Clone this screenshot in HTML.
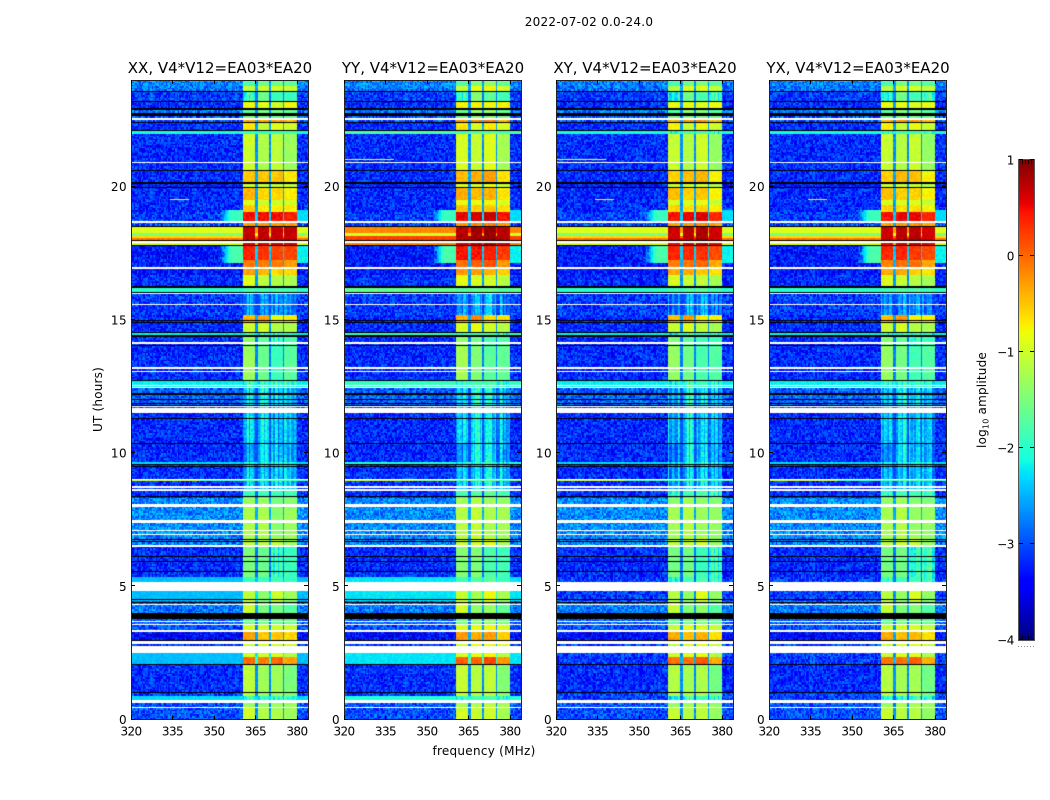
<!DOCTYPE html>
<html lang="en">
<head>
<meta charset="utf-8">
<title>2022-07-02 0.0-24.0</title>
<style>
html,body{margin:0;padding:0;background:#fff;}
#figure{position:relative;width:1050px;height:800px;overflow:hidden;background:#fff;font-family:"DejaVu Sans","Liberation Sans",sans-serif;}
canvas{position:absolute;display:block;}
#overlay{position:absolute;left:0;top:0;}
text{font-family:"DejaVu Sans","Liberation Sans",sans-serif;fill:#000;}
</style>
</head>
<body>
<div id="figure">
<svg id="overlay" width="1050" height="800">
<text x="589" y="26" text-anchor="middle" font-size="12" letter-spacing="0.25">2022-07-02 0.0-24.0</text>
<text x="484" y="755" text-anchor="middle" font-size="12" letter-spacing="0.27">frequency (MHz)</text>
<text transform="translate(102,399.5) rotate(-90)" text-anchor="middle" font-size="12" letter-spacing="0.2">UT (hours)</text>
<text transform="translate(986,400) rotate(-90)" text-anchor="middle" font-size="12" letter-spacing="0.2">log<tspan font-size="8" dy="2.5">10</tspan><tspan dy="-2.5"> amplitude</tspan></text>
</svg>
</div>
<script>
// Axis ranges
const freqMin = 320;
const freqMax = 384;
const hourMin = 0;
const hourMax = 24;
const levelMin = -4;
const levelMax = 1;

// Tick labels
const freqTicks = [320, 335, 350, 365, 380];
const hourTicks = [0, 5, 10, 15, 20];
const levelTicks = [-4, -3, -2, -1, 0, 1];
const levelEndMinorTicks = [0.2, 0.4, 0.6, 0.8];

// Panels
const panelTitles = ["XX, V4*V12=EA03*EA20", "YY, V4*V12=EA03*EA20", "XY, V4*V12=EA03*EA20", "YX, V4*V12=EA03*EA20"];
const panelNames = ["xx", "yy", "xy", "yx"];
const panelBackgroundGain = [0, 0.35, 0, 0];
const panelBandShift = [[0, 0, 0, 0], [0.05, 0.15, 0.2, 0.05], [-0.05, 0.05, 0.1, -0.05], [-0.05, 0.05, 0.05, -0.05]];

// Receiver sub-band edges (MHz)
const bandStartMHz = [360.4, 365.8, 370.5, 375.6];
const bandEndMHz = [365.1, 369.8, 374.9, 379.9];

// Time segments, top to bottom: start hour, log10 background, log10 level in each sub-band
const segmentHour = [
  24.00, 23.77, 23.56, 23.19, 22.90, 22.70, 22.49, 22.40, 22.10, 21.97,
  20.60, 20.13, 19.96, 19.49, 19.30, 19.04, 18.70, 18.48, 18.25, 18.16,
  18.07, 17.95, 17.78, 17.24, 17.00, 16.68, 16.20, 16.02, 15.18, 14.88,
  14.50, 14.37, 14.05, 12.72, 12.44, 11.52, 10.35, 9.66, 9.57, 8.99,
  8.95, 8.57, 8.33, 7.99, 6.83, 6.49, 5.33, 4.84, 4.45, 3.86,
  3.53, 3.28, 2.95, 2.51, 2.34, 2.06, 1.01, 0.88, 0.62, 0.43
];
const segmentBackground = [
  -2.75, -2.8, -3.1, -3.2, -2.8, -3.0, -3.0, -3.2, -2.1, -3.2,
  -3.2, -3.3, -3.2, -3.2, -3.2, -3.1, -3.0, -0.9, -1.5, -0.6,
  -0.1, -0.9, -3.3, -3.3, -3.3, -3.2, -2.0, -3.1, -3.2, -3.2,
  -2.2, -3.2, -3.2, -2.2, -2.9, -3.2, -3.2, -2.3, -3.2, -1.8,
  -3.2, -3.2, -2.7, -2.7, -2.75, -3.2, -2.45, -2.45, -2.8, -2.9,
  -3.0, -3.4, -3.1, -2.45, -2.45, -3.2, -3.1, -2.3, -3.0, -3.0
];
const segmentBands = [
  [-1.8, -1.6, -1.6, -1.7], [-1.1, -1.0, -1.0, -1.0], [-2.0, -1.6, -1.9, -1.9], [-0.8, -0.9, -1.0, -0.8], [-1.7, -1.5, -1.6, -1.7],
  [-1.5, -1.5, -1.6, -1.6], [-0.3, -0.3, -0.3, -0.4], [-0.7, -1.1, -0.9, -1.0], [-1.9, -1.9, -1.9, -1.9], [-1.0, -1.2, -1.1, -1.3],
  [-0.5, -0.5, -0.5, -0.7], [-1.0, -1.1, -1.1, -1.1], [-0.4, -0.6, -0.6, -0.7], [-0.9, -1.0, -1.0, -1.0], [-0.5, -0.7, -0.7, -0.7],
  [0.5, 0.5, 0.5, 0.4], [-0.3, -0.3, -0.3, -0.3], [0.7, 0.7, 0.7, 0.7], [0.7, 0.7, 0.7, 0.7], [0.7, 0.7, 0.7, 0.7],
  [0.7, 0.7, 0.7, 0.7], [0.6, 0.6, 0.6, 0.6], [0.4, 0.3, 0.2, 0.2], [-0.1, -0.1, -0.1, -0.3], [-0.3, -0.4, -0.6, -0.6],
  [-0.9, -1.1, -1.2, -1.2], [-1.8, -1.8, -1.8, -1.8], [-2.7, -2.7, -2.7, -2.8], [-0.4, -0.3, -0.8, -0.7], [-1.0, -1.0, -1.2, -1.2],
  [-2.0, -2.0, -2.0, -2.0], [-1.4, -1.7, -2.0, -1.8], [-1.3, -1.6, -1.9, -1.7], [-2.0, -2.0, -2.0, -2.0], [-2.4, -2.2, -2.4, -2.5],
  [-2.4, -2.3, -2.5, -2.5], [-2.7, -2.3, -2.5, -2.6], [-2.1, -2.1, -2.1, -2.1], [-2.5, -2.5, -2.5, -2.5], [-1.8, -1.8, -1.8, -1.8],
  [-2.4, -2.4, -2.4, -2.4], [-1.9, -1.9, -1.9, -1.9], [-1.3, -1.3, -1.5, -1.4], [-1.2, -1.2, -1.4, -1.3], [-1.1, -1.1, -1.1, -1.3],
  [-1.5, -1.6, -2.0, -1.9], [-1.9, -1.9, -1.9, -1.9], [-1.1, -1.4, -1.0, -1.3], [-1.0, -1.5, -1.5, -1.7], [-1.6, -1.6, -1.6, -1.6],
  [-1.0, -1.0, -1.0, -1.0], [-0.3, -0.5, -0.5, -0.6], [-1.0, -1.0, -1.0, -1.0], [-1.0, -1.0, -1.0, -1.2], [0.0, -0.1, 0.0, -0.3],
  [-1.1, -1.3, -1.3, -1.5], [-1.1, -1.3, -1.3, -1.5], [-2.0, -2.0, -2.0, -2.0], [-1.3, -1.3, -1.3, -1.3], [-1.0, -1.2, -1.2, -1.3]
];

// Hour ranges with enhanced emission next to the sub-bands
const haloStartHour = [19.10, 17.78];
const haloEndHour = [18.70, 17.15];
const haloLevel = [-1.9, -1.8];

// Narrow-band interference streaks and the panels each one appears in
const rfiHour = [21.05, 19.52, 22.75, 8.97];
const rfiStartMHz = [320, 334, 320, 320];
const rfiEndMHz = [338, 341, 352, 345];
const rfiLevel = [-0.8, -0.7, -1.9, -1.0];
const rfiPanels = [[1, 2], [0, 2, 3], [0, 1, 2, 3], [0, 1, 2, 3]];

// Hour ranges where the cross-hand panels stay at the quiet background
const crossQuietStartHour = [5.33, 2.51, 0.88];
const crossQuietEndHour = [4.45, 2.06, 0.62];

// Flagged time ranges (white) and zero-amplitude time ranges (black)
const flaggedStartHour = [22.59, 20.94, 18.70, 17.95, 16.98, 16.00, 15.61, 14.15, 13.23, 13.09, 12.57, 12.49, 11.76, 11.69, 9.04, 8.76, 8.65, 8.09, 7.47, 7.13, 6.98, 6.55, 5.16, 4.35, 3.71, 3.60, 3.36, 2.95, 2.76, 0.75, 0.47];
const flaggedEndHour = [22.49, 20.88, 18.63, 17.88, 16.92, 15.95, 15.55, 14.09, 13.17, 13.04, 12.53, 12.44, 11.71, 11.52, 8.99, 8.70, 8.59, 7.99, 7.39, 7.07, 6.92, 6.49, 4.84, 4.33, 3.66, 3.53, 3.28, 2.83, 2.51, 0.62, 0.43];
const zeroStartHour = [23.58, 23.21, 22.94, 22.76, 22.42, 22.14, 20.62, 20.17, 19.98, 18.52, 17.99, 17.80, 16.26, 16.04, 15.01, 14.91, 14.56, 14.43, 14.05, 12.74, 12.25, 12.03, 11.88, 11.80, 11.31, 10.37, 9.59, 9.51, 8.39, 7.50, 6.79, 6.70, 6.12, 5.95, 5.59, 4.54, 4.41, 3.98, 3.83, 2.98, 2.08, 1.05];
const zeroEndHour = [23.54, 23.17, 22.87, 22.64, 22.38, 22.08, 20.58, 20.09, 19.94, 18.48, 17.95, 17.77, 16.19, 16.00, 14.95, 14.88, 14.50, 14.37, 14.01, 12.70, 12.18, 11.99, 11.84, 11.76, 11.27, 10.34, 9.55, 9.47, 8.35, 7.47, 6.76, 6.66, 6.08, 5.91, 5.55, 4.50, 4.37, 3.86, 3.79, 2.95, 2.05, 1.01];

// Short hand-typed speckle table that stands in for the visual grain of the measurement noise
const speckle = [
  0.21, -0.34, 0.08, 0.37, -0.15, -0.28, 0.30, -0.05, 0.17, -0.39, 0.12, 0.26, -0.22, 0.03, -0.31, 0.35,
  -0.09, 0.19, -0.26, 0.41, -0.18, 0.06, 0.28, -0.36, 0.14, -0.02, 0.33, -0.24, 0.10, -0.41, 0.23, -0.12,
  0.38, -0.29, 0.01, 0.16, -0.20, 0.31, -0.07, -0.33, 0.25, 0.09, -0.38, 0.18, -0.14, 0.36, -0.25, 0.04,
  0.29, -0.10, -0.35, 0.22, 0.13, -0.19, 0.40, -0.30, 0.07, -0.04, 0.27, -0.23, 0.11
];

// Layout
const plotLefts = [131, 344, 556, 769];
const plotWidth = 177;
const plotTop = 80;
const plotHeight = 639.5;
const cbarLeft = 1019;
const cbarTop = 160;
const cbarWidth = 15;
const cbarHeight = 480;

const figure = document.getElementById('figure');
const overlay = document.getElementById('overlay');
const SVGNS = 'http://www.w3.org/2000/svg';

function xScale(freq, left) { return left + (freq - freqMin) / (freqMax - freqMin) * plotWidth; }
function yScale(hour) { return plotTop + (hourMax - hour) / (hourMax - hourMin) * plotHeight; }
function cbarScale(level) { return cbarTop + (levelMax - level) / (levelMax - levelMin) * cbarHeight; }

function ramp(t, xs, ys) {
  for (let i = 1; i < xs.length; i++) {
    if (t <= xs[i]) return ys[i - 1] + (t - xs[i - 1]) / (xs[i] - xs[i - 1]) * (ys[i] - ys[i - 1]);
  }
  return ys[ys.length - 1];
}
function jet(level) {
  const t = Math.min(1, Math.max(0, (level - levelMin) / (levelMax - levelMin)));
  const r = ramp(t, [0, 0.35, 0.66, 0.89, 1], [0, 0, 1, 1, 0.5]);
  const g = ramp(t, [0, 0.125, 0.375, 0.64, 0.91, 1], [0, 0, 1, 1, 0, 0]);
  const b = ramp(t, [0, 0.11, 0.34, 0.65, 1], [0.5, 1, 1, 0, 0]);
  return 'rgb(' + Math.round(r * 255) + ',' + Math.round(g * 255) + ',' + Math.round(b * 255) + ')';
}

function isCrossQuiet(hour) {
  for (let i = 0; i < crossQuietStartHour.length; i++) {
    if (hour <= crossQuietStartHour[i] && hour >= crossQuietEndHour[i]) return true;
  }
  return false;
}
function haloAt(hour) {
  for (let i = 0; i < haloLevel.length; i++) {
    if (hour <= haloStartHour[i] && hour >= haloEndHour[i]) return haloLevel[i];
  }
  return null;
}
function levelAt(panel, seg, hour, freq) {
  let bg = segmentBackground[seg];
  const gain = panelBackgroundGain[panel];
  if (bg > -2.5 && gain > 0) bg = Math.min(0.2, bg + gain * (bg + 3));
  if (panel >= 2 && isCrossQuiet(hour)) bg = -3.1;
  const bands = segmentBands[seg];
  for (let b = 0; b < 4; b++) {
    if (freq >= bandStartMHz[b] && freq < bandEndMHz[b]) return { level: bands[b] + panelBandShift[panel][b], kind: 'band' };
  }
  if (freq >= bandStartMHz[0] && freq < bandEndMHz[3]) {
    return { level: Math.max(bg, -2.9) + 0.22 * (Math.max(bands[0], bands[1]) + 2), kind: 'gap' };
  }
  const halo = haloAt(hour);
  let smooth = bg > -2.5;
  if (halo !== null) {
    if (freq >= bandEndMHz[3]) bg = Math.max(bg, halo - 0.4);
    else if (freq >= 352) bg = Math.max(bg, bg + (halo - bg) * Math.min(1, (freq - 352) / 4));
    if (freq >= 354) smooth = true;
  }
  return { level: bg, kind: smooth ? 'smooth' : 'noise' };
}
function grainFor(cell, col, rowIndex, panel) {
  const a = speckle[(col * col * 3 + rowIndex * rowIndex * 7 + col * rowIndex * 5 + panel * 11) % speckle.length];
  const b = speckle[(col * 5 + panel * 3) % speckle.length];
  if (cell.kind === 'noise') return a * 1.0;
  if (cell.kind === 'smooth') return a * 0.2;
  if (cell.kind === 'band' && cell.level < -1.9) return a * 0.5 + b * 0.9;
  return a * 0.28;
}

function drawPanel(panel) {
  const left = plotLefts[panel];
  const canvas = document.createElement('canvas');
  
  
  canvas.width = plotWidth;
  canvas.height = 640;
  canvas.style.left = left + 'px';
  canvas.style.top = plotTop + 'px';
  figure.insertBefore(canvas, overlay);
  const ctx = canvas.getContext('2d');
  const cellFreq = 0.5;
  const cellHour = 0.06;
  for (let seg = 0; seg < segmentHour.length; seg++) {
    const topHour = segmentHour[seg];
    const endHour = seg + 1 < segmentHour.length ? segmentHour[seg + 1] : hourMin;
    for (let hour = topHour; hour > endHour + 1e-6; hour -= cellHour) {
      const nextHour = Math.max(endHour, hour - cellHour);
      const y0 = Math.round(yScale(hour) - plotTop);
      const y1 = Math.round(yScale(nextHour) - plotTop);
      if (y1 <= y0) continue;
      const rowIndex = Math.round(hour / cellHour);
      for (let col = 0; col < (freqMax - freqMin) / cellFreq; col++) {
        const freq = freqMin + col * cellFreq;
        const cell = levelAt(panel, seg, (hour + nextHour) / 2, freq + cellFreq / 2);
        ctx.fillStyle = jet(cell.level + grainFor(cell, col, rowIndex, panel));
        const x0 = Math.round(xScale(freq, 0));
        const x1 = Math.round(xScale(freq + cellFreq, 0));
        ctx.fillRect(x0, y0, Math.max(1, x1 - x0), y1 - y0);
      }
    }
  }
  for (let i = 0; i < rfiHour.length; i++) {
    if (rfiPanels[i].indexOf(panel) < 0) continue;
    const y = Math.round(yScale(rfiHour[i]) - plotTop);
    const x0 = Math.round(xScale(rfiStartMHz[i], 0));
    const x1 = Math.round(xScale(rfiEndMHz[i], 0));
    ctx.fillStyle = jet(rfiLevel[i]);
    ctx.fillRect(x0, y, x1 - x0, 1);
  }
  for (let i = 0; i < zeroStartHour.length; i++) {
    const y0 = Math.round(yScale(zeroStartHour[i]) - plotTop);
    const y1 = Math.round(yScale(zeroEndHour[i]) - plotTop);
    ctx.fillStyle = '#000';
    ctx.fillRect(0, y0, plotWidth, Math.max(1, y1 - y0));
  }
  for (let i = 0; i < flaggedStartHour.length; i++) {
    const y0 = Math.round(yScale(flaggedStartHour[i]) - plotTop);
    const y1 = Math.round(yScale(flaggedEndHour[i]) - plotTop);
    ctx.clearRect(0, y0, plotWidth, Math.max(1, y1 - y0));
  }
}

function addLine(x1, y1, x2, y2, name, color, width) {
  const el = document.createElementNS(SVGNS, 'line');
  
  
  el.setAttribute('x1', x1);
  el.setAttribute('y1', y1);
  el.setAttribute('x2', x2);
  el.setAttribute('y2', y2);
  el.setAttribute('stroke', color);
  el.setAttribute('stroke-width', width);
  overlay.appendChild(el);
  return el;
}
function addText(x, y, str, anchor, size, spacing, name) {
  const el = document.createElementNS(SVGNS, 'text');
  
  
  el.setAttribute('x', x);
  el.setAttribute('y', y);
  el.setAttribute('text-anchor', anchor);
  el.setAttribute('font-size', size);
  el.setAttribute('letter-spacing', spacing);
  el.textContent = str;
  overlay.appendChild(el);
}
function drawAxes(panel) {
  const left = plotLefts[panel];
  const name = panelNames[panel];
  const bottom = plotTop + plotHeight;
  const frame = document.createElementNS(SVGNS, 'rect');
  
  
  frame.setAttribute('x', left + 0.5);
  frame.setAttribute('y', plotTop + 0.5);
  frame.setAttribute('width', plotWidth);
  frame.setAttribute('height', plotHeight - 0.5);
  frame.setAttribute('fill', 'none');
  frame.setAttribute('stroke', '#222');
  frame.setAttribute('stroke-width', 1);
  overlay.appendChild(frame);
  addText(left + plotWidth / 2 + 0.5, 73, panelTitles[panel], 'middle', 15, 0, 'panel-title-' + name);
  freqTicks.forEach(function (tick) {
    const x = Math.round(xScale(tick, left)) + 0.5;
    addLine(x, bottom, x, bottom - 4, 'x-tick-' + name + '-' + tick, '#000', 1);
    addLine(x, plotTop, x, plotTop + 4, 'x-tick-top-' + name + '-' + tick, '#000', 1);
    addText(xScale(tick, left), bottom + 16, String(tick), 'middle', 12, -0.6, 'x-tick-label-' + name + '-' + tick);
  });
  hourTicks.forEach(function (tick) {
    const y = Math.round(yScale(tick)) - 0.5;
    addLine(left, y, left + 4, y, 'y-tick-' + name + '-' + tick, '#000', 1);
    addLine(left + plotWidth, y, left + plotWidth - 4, y, 'y-tick-right-' + name + '-' + tick, '#000', 1);
    addText(left - 4, yScale(tick) + 4.5, String(tick), 'end', 12, 0.4, 'y-tick-label-' + name + '-' + tick);
  });
}
function drawColorbar() {
  const canvas = document.createElement('canvas');
  
  
  canvas.width = cbarWidth;
  canvas.height = cbarHeight;
  canvas.style.left = cbarLeft + 'px';
  canvas.style.top = cbarTop + 'px';
  figure.insertBefore(canvas, overlay);
  const ctx = canvas.getContext('2d');
  for (let y = 0; y < cbarHeight; y++) {
    ctx.fillStyle = jet(levelMax - (y + 0.5) / cbarHeight * (levelMax - levelMin));
    ctx.fillRect(0, y, cbarWidth, 1);
  }
  const frame = document.createElementNS(SVGNS, 'rect');
  
  
  frame.setAttribute('x', cbarLeft - 0.5);
  frame.setAttribute('y', cbarTop - 0.5);
  frame.setAttribute('width', cbarWidth + 1);
  frame.setAttribute('height', cbarHeight + 1);
  frame.setAttribute('fill', 'none');
  frame.setAttribute('stroke', '#555');
  frame.setAttribute('stroke-width', 1);
  overlay.appendChild(frame);
  levelTicks.forEach(function (tick) {
    const y = Math.round(cbarScale(tick)) - 0.5;
    addLine(cbarLeft, y, cbarLeft + 4, y, 'colorbar-tick-' + tick, '#000', 1);
    addLine(cbarLeft + cbarWidth, y, cbarLeft + cbarWidth - 4, y, 'colorbar-tick-right-' + tick, '#000', 1);
    addText(cbarLeft - 5, cbarScale(tick) + 4.5, String(tick).replace('-', '\u2212'), 'end', 12, -0.4, 'colorbar-tick-label-' + tick);
  });
  levelEndMinorTicks.forEach(function (fraction) {
    const x = Math.round(cbarLeft + fraction * cbarWidth) + 0.5;
    addLine(x, cbarTop, x, cbarTop + 4, 'colorbar-minor-tick-top', '#000', 1);
    addLine(x, cbarTop + cbarHeight, x, cbarTop + cbarHeight - 4, 'colorbar-minor-tick-bottom', '#000', 1);
  });
  const dots = addLine(cbarLeft - 1, cbarTop + cbarHeight + 6.5, cbarLeft + cbarWidth + 1, cbarTop + cbarHeight + 6.5, 'colorbar-offset-marks', '#888', 1);
  dots.setAttribute('stroke-dasharray', '1 2');
}

panelTitles.forEach(function (title, panel) {
  drawPanel(panel);
  drawAxes(panel);
});
drawColorbar();
</script>
</body>
</html>
